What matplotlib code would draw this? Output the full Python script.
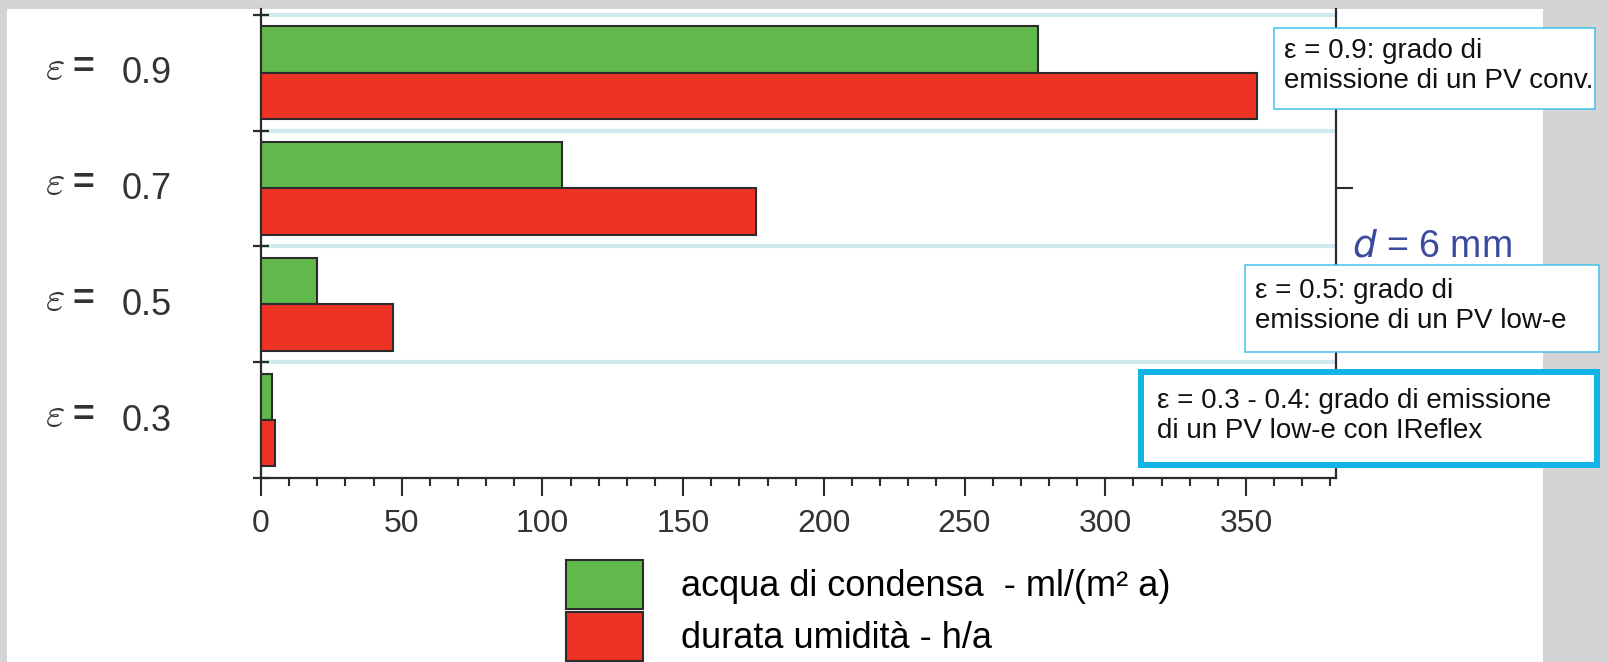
#!/usr/bin/env python3
"""
Condensa su vetrata: acqua di condensa e durata umidità per diversi gradi di emissione.
"""

import matplotlib
matplotlib.use('Agg')
import matplotlib.pyplot as plt
from matplotlib.patches import Patch, Rectangle
import numpy as np

plt.rcParams['font.family'] = ['Liberation Sans', 'DejaVu Sans']
NARROW = ['Liberation Sans Narrow', 'Liberation Sans', 'DejaVu Sans']

# ─────────────────────────────────────────────
# DATA
# ─────────────────────────────────────────────
emissivity = ['0.9', '0.7', '0.5', '0.3']          # top to bottom
condensa = [276, 107, 20, 4]                       # ml/(m² a)
umidita = [354, 176, 47, 5]                        # h/a
x_ticks = [0, 50, 100, 150, 200, 250, 300, 350]
legend_labels = ['acqua di condensa  - ml/(m² a)', 'durata umidità - h/a']
notes = [
    'ε = 0.9: grado di\nemissione di un PV conv.',
    'ε = 0.5: grado di\nemissione di un PV low-e',
    'ε = 0.3 - 0.4: grado di emissione\ndi un PV low-e con IReflex',
]
thickness_label = ' = 6 mm'

GREEN = '#62b94b'
RED = '#ee3224'
EDGE = '#2b2b2b'
CYAN = '#cdebef'
BOX = '#3fc0ec'
BOX_BOLD = '#12b4e6'
W, H = 1607, 662


def fx(px):
    return px / W


def fy(py):
    return 1 - py / H


fig = plt.figure(figsize=(W / 100, H / 100), dpi=100, facecolor='#d4d4d4')

# white panel over the gray page
fig.patches.append(Rectangle((fx(7), fy(662)), fx(1543) - fx(7), fy(9) - fy(662),
                             transform=fig.transFigure, facecolor='white',
                             edgecolor='none', zorder=-5))

ax = fig.add_axes([fx(261), fy(478), fx(1336) - fx(261), fy(9) - fy(478)])
ax.set_facecolor('none')
ax.set_zorder(1)

pos = np.arange(len(emissivity))[::-1]          # 0.9 at top
bh = 0.4
ax.barh(pos + bh / 2, condensa, height=bh, color=GREEN, edgecolor=EDGE, lw=1.5, zorder=3)
ax.barh(pos - bh / 2, umidita, height=bh, color=RED, edgecolor=EDGE, lw=1.5, zorder=3)

# light cyan separators between groups
seps = np.arange(len(emissivity)) + 0.5
for s in seps:
    ax.axhline(s, color=CYAN, lw=3, zorder=1)

ax.set_xlim(0, 382)
ax.set_ylim(-0.5, 3.55)

for side in ['left', 'right', 'bottom']:
    ax.spines[side].set_linewidth(1.6)
    ax.spines[side].set_color(EDGE)
ax.spines['top'].set_visible(False)

ax.set_xticks(x_ticks)
ax.set_xticks(np.arange(0, 381, 10), minor=True)
ax.tick_params(axis='x', which='major', direction='out', length=13, width=1.5,
               color=EDGE, labelsize=23, labelcolor='#333333', pad=9)
ax.tick_params(axis='x', which='minor', direction='out', length=6, width=1.5, color=EDGE)
for lab in ax.get_xticklabels():
    lab.set_family(NARROW)

ax.set_yticks([])
ax.set_yticks(np.concatenate([[-0.5], seps]), minor=True)
ax.tick_params(axis='y', which='minor', direction='inout', length=12, width=1.6,
               color=EDGE, left=True, right=True, labelleft=False)

# extra ticks on the right spine
ax2 = ax.twinx()
ax2.set_ylim(ax.get_ylim())
ax2.set_yticks([2.0])
ax2.tick_params(axis='y', direction='out', length=12, width=1.5, color=EDGE, labelright=False)
for side in ['left', 'right', 'top', 'bottom']:
    ax2.spines[side].set_visible(False)

# category labels: "ε = 0.9"
ytr = ax.get_yaxis_transform()
x0 = fx(261)
axw = fx(1336) - fx(261)
for p, e in zip(pos, emissivity):
    ax.text((fx(45) - x0) / axw, p - 0.06, r'$\varepsilon$', transform=ytr,
            fontsize=30, color='#333333', va='baseline', ha='left', math_fontfamily='cm')
    ax.text((fx(73) - x0) / axw, p - 0.05, '=', transform=ytr, fontsize=27,
            fontweight='bold', color='#333333', va='baseline', ha='left')
    ax.text((fx(122) - x0) / axw, p - 0.09, e, transform=ytr, fontsize=26,
            family=NARROW, color='#333333', va='baseline', ha='left')

# d = 6 mm next to the right spine
ax.text((fx(1352) - x0) / axw, 1.41, r'$d$' + thickness_label, transform=ytr,
        fontsize=27, color='#3b4a9e', va='baseline', ha='left',
        math_fontfamily='dejavusans', clip_on=False)

# annotation boxes
boxes = [(1274, 28, 1595, 109, BOX, 1.5), (1245, 265, 1599, 352, BOX, 1.5),
         (1141, 372, 1597, 465, BOX_BOLD, 6)]
for (l, t, r, b, c, lw), note in zip(boxes, notes):
    fig.patches.append(Rectangle((fx(l), fy(b)), fx(r) - fx(l), fy(t) - fy(b),
                                 transform=fig.transFigure, facecolor='white',
                                 edgecolor=c, lw=lw * 0.72, zorder=5))
    pad = 16 if lw > 2 else 10
    fig.text(fx(l + pad), fy((t + b) / 2 - 3), note, fontsize=20, color='#111111',
             va='center', ha='left', linespacing=1.2, zorder=6)

# legend
handles = [Patch(facecolor=GREEN, edgecolor=EDGE, lw=1.5),
           Patch(facecolor=RED, edgecolor=EDGE, lw=1.5)]
fs = 26
fig.legend(handles, legend_labels, loc='upper left', bbox_to_anchor=(fx(566), fy(560)),
           frameon=False, fontsize=fs, borderpad=0, borderaxespad=0,
           handlelength=77 / (fs * 1.389), handleheight=1.7,
           handletextpad=1.05, labelspacing=0.1)

fig.savefig('out.png', dpi=100, facecolor=fig.get_facecolor())
